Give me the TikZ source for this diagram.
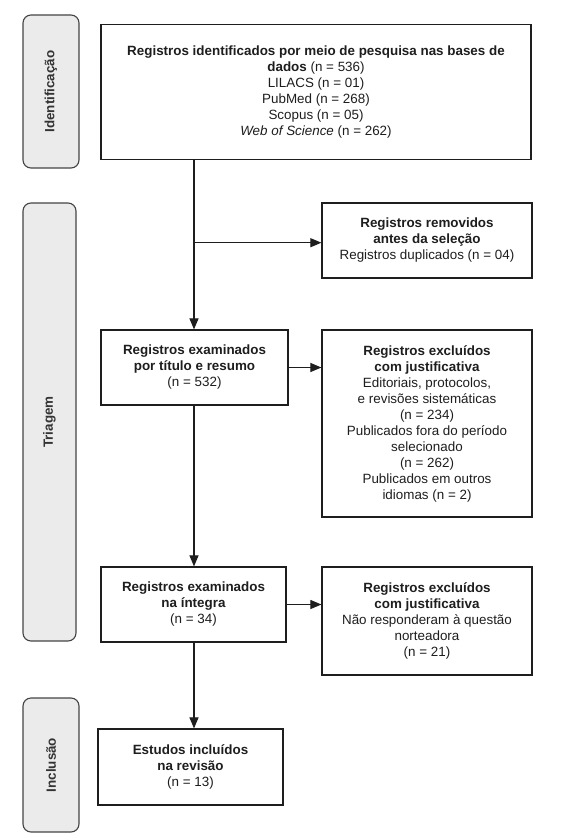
\documentclass[tikz,border=0pt]{standalone}
\usepackage{fontspec}
\setmainfont{Liberation Sans}
\usetikzlibrary{arrows.meta}
\definecolor{ink}{HTML}{1E1E1E}
\definecolor{lblfill}{HTML}{EBEBEB}
\definecolor{lbldraw}{HTML}{444444}
\definecolor{lbltext}{HTML}{333333}
\begin{document}
\begin{tikzpicture}[x=1pt,y=-1pt,
  every node/.style={font=\fontsize{13.4}{16}\selectfont},
  box/.style={draw=ink, line width=1.2pt, rectangle, inner sep=0pt, align=center, text=ink},
  lbl/.style={draw=lbldraw, fill=lblfill, line width=1.1pt, rounded corners=8pt, inner sep=0pt, rotate=90, text=lbltext, font=\fontsize{13.4}{16}\selectfont\bfseries},
  conn/.style={draw=ink, line width=1.1pt},
  arr/.style={conn, -{Triangle[length=11pt,width=9pt]}}
]
\useasboundingbox (0,0) rectangle (560,840);
\fill[white] (0,0) rectangle (560,840);

% stage labels
\node[lbl, minimum width=153pt, minimum height=56pt] (lid) at (51,91.5) {Identificação};
\node[lbl, minimum width=438pt, minimum height=53pt] (ltr) at (49.5,422) {Triagem};
\node[lbl, minimum width=134pt, minimum height=56pt] (lin) at (51,765) {Inclusão};

% boxes
\node[box, minimum width=430pt, minimum height=135pt] (top) at (316,92) {%
  \textbf{Registros identificados por meio de pesquisa nas bases de}\\
  \textbf{dados} (n = 536)\\
  LILACS (n = 01)\\
  PubMed (n = 268)\\
  Scopus (n = 05)\\
  \textit{Web of Science} (n = 262)};

\node[box, minimum width=210pt, minimum height=75pt] (rem) at (427,240.5) {%
  \textbf{Registros removidos}\\
  \textbf{antes da seleção}\\
  Registros duplicados (n = 04)};

\node[box, minimum width=187pt, minimum height=75pt] (ex) at (194.5,367.5) {%
  \textbf{Registros examinados}\\
  \textbf{por título e resumo}\\
  (n = 532)};

\node[box, minimum width=210pt, minimum height=187pt] (exc) at (427,423.5) {%
  \textbf{Registros excluídos}\\
  \textbf{com justificativa}\\
  Editoriais, protocolos,\\
  e revisões sistemáticas\\
  (n = 234)\\
  Publicados fora do período\\
  selecionado\\
  (n = 262)\\
  Publicados em outros\\
  idiomas (n = 2)};

\node[box, minimum width=185pt, minimum height=75pt] (ft) at (193.5,604.5) {%
  \textbf{Registros examinados}\\
  \textbf{na íntegra}\\
  (n = 34)};

\node[box, minimum width=210pt, minimum height=108pt] (exc2) at (427,621) {%
  \textbf{Registros excluídos}\\
  \textbf{com justificativa}\\
  Não responderam à questão\\
  norteadora\\
  (n = 21)};

\node[box, minimum width=185pt, minimum height=76pt] (inc) at (190.5,767) {%
  \textbf{Estudos incluídos}\\
  \textbf{na revisão}\\
  (n = 13)};

% connectors
\coordinate (br) at (194,242.7);
\draw[arr] (top.south -| br) -- (br |- ex.north);
\draw[arr] (br) -- (br -| rem.west);
\draw[arr] (ex.east) -- (ex.east -| exc.west);
\draw[arr] (ex.south -| br) -- (br |- ft.north);
\draw[arr] (ft.east) -- (ft.east -| exc2.west);
\draw[arr] (ft.south -| br) -- (br |- inc.north);
\end{tikzpicture}
\end{document}
